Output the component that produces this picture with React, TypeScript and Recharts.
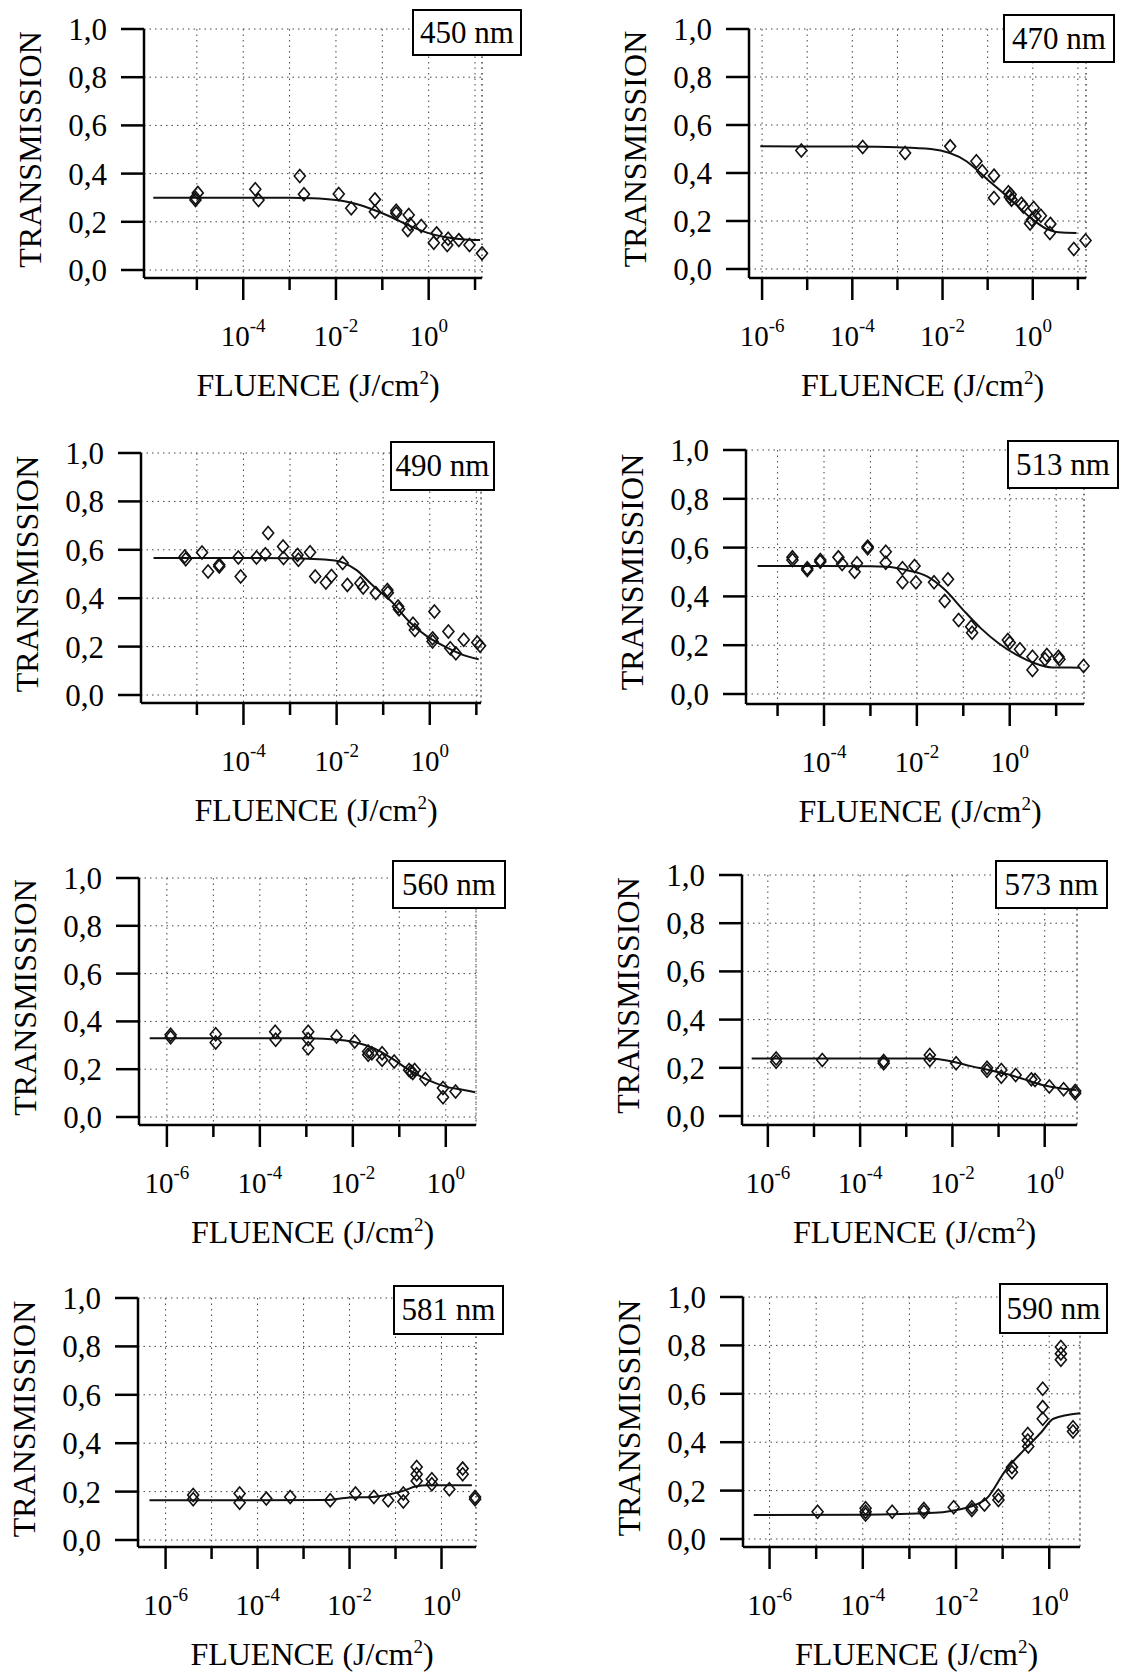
import React from "react";
import { ComposedChart, Line, Scatter, XAxis, YAxis, CartesianGrid, ReferenceLine } from "recharts";

const FONT = '"Liberation Serif", "Times New Roman", serif';

// transmission ticks, shared by every panel
const transTicks = [0, 0.2, 0.4, 0.6, 0.8, 1.0];

// fluence values are stored as log10(J/cm2)

// 450 nm
const fluence450 = [-5.03, -4.98, -5.03, -3.74, -3.67, -2.78, -2.69, -1.94, -1.67, -1.16, -1.16, -0.7, -0.7, -0.43, -0.45, -0.4, -0.16, 0.11, 0.17, 0.4, 0.42, 0.65, 0.88, 1.15];
const trans450 = [0.3, 0.32, 0.29, 0.335, 0.29, 0.39, 0.314, 0.315, 0.256, 0.293, 0.242, 0.246, 0.235, 0.228, 0.166, 0.19, 0.183, 0.113, 0.152, 0.104, 0.13, 0.124, 0.104, 0.069];
const fitFluence450 = [-5.94, -3.0, -2.5, -2.0, -1.58, -1.19, -0.81, -0.43, -0.04, 0.34, 0.72, 1.11];
const fitTrans450 = [0.3, 0.3, 0.298, 0.29, 0.275, 0.25, 0.22, 0.185, 0.155, 0.137, 0.128, 0.124];
const decades450 = [-5, -4, -3, -2, -1, 0, 1];

// 470 nm
const fluence470 = [-5.13, -3.77, -2.83, -1.83, -1.25, -1.12, -0.86, -0.86, -0.54, -0.49, -0.51, -0.47, -0.25, -0.21, 0.02, 0.06, -0.02, -0.06, 0.18, 0.39, 0.38, 0.91, 1.17];
const trans470 = [0.494, 0.508, 0.483, 0.511, 0.449, 0.407, 0.389, 0.296, 0.32, 0.31, 0.3, 0.289, 0.272, 0.26, 0.254, 0.22, 0.205, 0.19, 0.222, 0.188, 0.15, 0.083, 0.119];
const fitFluence470 = [-6.04, -4.0, -3.0, -2.26, -1.47, -1.0, -0.53, 0.0, 0.34, 0.57, 0.97];
const fitTrans470 = [0.511, 0.51, 0.507, 0.5, 0.449, 0.372, 0.296, 0.206, 0.164, 0.153, 0.15];
const decades470 = [-6, -5, -4, -3, -2, -1, 0, 1];

// 490 nm
const fluence490 = [-5.26, -5.24, -4.89, -4.76, -4.52, -4.52, -4.11, -4.06, -3.72, -3.53, -3.47, -3.15, -3.14, -2.84, -2.82, -2.57, -2.46, -2.23, -2.11, -1.87, -1.77, -1.49, -1.43, -1.16, -0.91, -0.9, -0.68, -0.66, -0.36, -0.32, 0.06, 0.06, 0.1, 0.4, 0.44, 0.56, 0.73, 1.02, 1.08];
const trans490 = [0.572, 0.561, 0.589, 0.51, 0.538, 0.531, 0.568, 0.49, 0.568, 0.582, 0.669, 0.614, 0.566, 0.579, 0.559, 0.59, 0.49, 0.465, 0.492, 0.545, 0.455, 0.462, 0.444, 0.421, 0.434, 0.423, 0.366, 0.354, 0.294, 0.269, 0.234, 0.221, 0.345, 0.262, 0.193, 0.172, 0.228, 0.217, 0.203];
const fitFluence490 = [-5.93, -4.0, -3.0, -2.04, -1.58, -1.2, -0.82, -0.44, -0.05, 0.4, 0.71, 1.05];
const fitTrans490 = [0.566, 0.566, 0.565, 0.556, 0.517, 0.448, 0.386, 0.303, 0.241, 0.193, 0.166, 0.148];
const decades490 = [-5, -4, -3, -2, -1, 0, 1];

// 513 nm
const fluence513 = [-4.68, -4.68, -4.36, -4.36, -4.08, -4.08, -3.69, -3.61, -3.34, -3.29, -3.06, -3.06, -2.67, -2.67, -2.31, -2.31, -2.05, -2.02, -1.63, -1.33, -1.4, -1.1, -0.83, -0.81, -0.04, 0.0, 0.22, 0.49, 0.49, 0.76, 0.8, 1.05, 1.07, 1.59];
const trans513 = [0.56, 0.549, 0.515, 0.508, 0.542, 0.549, 0.56, 0.533, 0.501, 0.536, 0.604, 0.597, 0.583, 0.538, 0.515, 0.458, 0.525, 0.458, 0.458, 0.47, 0.381, 0.303, 0.276, 0.251, 0.221, 0.21, 0.183, 0.153, 0.098, 0.142, 0.16, 0.153, 0.142, 0.115];
const fitFluence513 = [-5.43, -4.0, -3.0, -2.65, -2.23, -1.77, -1.39, -1.0, -0.62, -0.24, 0.15, 0.54, 0.91, 1.52];
const fitTrans513 = [0.525, 0.525, 0.524, 0.522, 0.508, 0.481, 0.426, 0.344, 0.269, 0.208, 0.16, 0.126, 0.109, 0.108];
const decades513 = [-5, -4, -3, -2, -1, 0, 1];

// 560 nm
const fluence560 = [-5.92, -5.92, -4.95, -4.95, -3.67, -3.66, -2.96, -2.96, -2.96, -2.35, -1.96, -1.67, -1.67, -1.59, -1.37, -1.37, -1.11, -0.79, -0.75, -0.71, -0.67, -0.44, -0.06, -0.06, 0.21];
const trans560 = [0.344, 0.334, 0.346, 0.312, 0.357, 0.323, 0.357, 0.325, 0.288, 0.337, 0.316, 0.274, 0.26, 0.267, 0.267, 0.239, 0.232, 0.197, 0.19, 0.184, 0.197, 0.159, 0.121, 0.083, 0.107];
const fitFluence560 = [-6.37, -4.0, -2.93, -2.31, -1.93, -1.55, -1.17, -0.79, -0.4, -0.02, 0.36, 0.63];
const fitTrans560 = [0.33, 0.33, 0.33, 0.323, 0.312, 0.288, 0.246, 0.197, 0.156, 0.128, 0.114, 0.104];
const decades560 = [-6, -5, -4, -3, -2, -1, 0];

// 573 nm
const fluence573 = [-5.82, -5.82, -4.82, -3.49, -3.49, -2.49, -2.49, -1.92, -1.25, -1.25, -0.94, -0.94, -0.63, -0.29, -0.21, 0.1, 0.41, 0.66, 0.66];
const trans573 = [0.239, 0.225, 0.232, 0.228, 0.219, 0.253, 0.232, 0.219, 0.2, 0.188, 0.191, 0.163, 0.17, 0.152, 0.149, 0.122, 0.111, 0.094, 0.104];
const fitFluence573 = [-6.35, -4.0, -2.45, -1.98, -1.6, -1.21, -0.83, -0.44, -0.05, 0.33, 0.68];
const fitTrans573 = [0.239, 0.239, 0.239, 0.225, 0.207, 0.191, 0.174, 0.152, 0.129, 0.115, 0.108];
const decades573 = [-6, -5, -4, -3, -2, -1, 0];

// 581 nm
const fluence581 = [-5.4, -5.4, -4.39, -4.39, -3.81, -3.29, -2.42, -1.87, -1.47, -1.16, -0.83, -0.83, -0.54, -0.54, -0.54, -0.21, -0.21, 0.17, 0.46, 0.46, 0.73, 0.73];
const trans581 = [0.186, 0.168, 0.192, 0.154, 0.171, 0.178, 0.164, 0.192, 0.178, 0.164, 0.192, 0.159, 0.302, 0.272, 0.244, 0.251, 0.23, 0.21, 0.295, 0.272, 0.178, 0.168];
const fitFluence581 = [-6.35, -2.5, -2.0, -1.5, -1.1, -0.8, -0.55, -0.3, 0.66];
const fitTrans581 = [0.164, 0.165, 0.176, 0.178, 0.19, 0.205, 0.222, 0.226, 0.226];
const decades581 = [-6, -5, -4, -3, -2, -1, 0];

// 590 nm
const fluence590 = [-4.97, -3.94, -3.94, -3.94, -3.37, -2.69, -2.69, -2.05, -1.66, -1.66, -1.39, -1.09, -1.09, -0.8, -0.8, -0.46, -0.46, -0.45, -0.14, -0.14, -0.14, 0.25, 0.25, 0.25, 0.51, 0.51];
const trans590 = [0.113, 0.127, 0.113, 0.101, 0.113, 0.124, 0.113, 0.131, 0.131, 0.12, 0.142, 0.179, 0.161, 0.297, 0.276, 0.434, 0.407, 0.382, 0.621, 0.545, 0.497, 0.793, 0.766, 0.741, 0.462, 0.444];
const fitFluence590 = [-6.34, -4.0, -2.46, -2.08, -1.6, -1.35, -0.94, -0.55, -0.17, 0.09, 0.66];
const fitTrans590 = [0.099, 0.1, 0.108, 0.117, 0.14, 0.166, 0.283, 0.366, 0.441, 0.497, 0.52];
const decades590 = [-6, -5, -4, -3, -2, -1, 0];

const toPoints = (f: number[], t: number[]) => f.map((e, i) => ({ x: 10 ** e, y: t[i] }));

const CELL_W = 561;
const CELL_H = 420;

// page layout of each panel: plot edges in px, log range of the x axis, label box
const panels = [
  { label: "450 nm", f: fluence450, t: trans450, ff: fitFluence450, ft: fitTrans450, dec: decades450,
    cellX: 0, cellY: 0, axisX: 144, rightX: 482, y1: 29, y0: 270, axisY: 278, lo: -6.14, hi: 1.15, box: [413, 10, 108, 45] },
  { label: "470 nm", f: fluence470, t: trans470, ff: fitFluence470, ft: fitTrans470, dec: decades470,
    cellX: 561, cellY: 0, axisX: 749, rightX: 1086, y1: 29, y0: 269, axisY: 278, lo: -6.29, hi: 1.18, box: [1004, 15, 110, 47] },
  { label: "490 nm", f: fluence490, t: trans490, ff: fitFluence490, ft: fitTrans490, dec: decades490,
    cellX: 0, cellY: 420, axisX: 141, rightX: 481, y1: 453, y0: 695, axisY: 703, lo: -6.2, hi: 1.1, box: [391, 442, 103, 48] },
  { label: "513 nm", f: fluence513, t: trans513, ff: fitFluence513, ft: fitTrans513, dec: decades513,
    cellX: 561, cellY: 420, axisX: 746, rightX: 1084, y1: 450, y0: 694, axisY: 704, lo: -5.68, hi: 1.6, box: [1008, 441, 110, 47] },
  { label: "560 nm", f: fluence560, t: trans560, ff: fitFluence560, ft: fitTrans560, dec: decades560,
    cellX: 0, cellY: 840, axisX: 139, rightX: 476, y1: 878, y0: 1117, axisY: 1125, lo: -6.6, hi: 0.65, box: [393, 861, 112, 47] },
  { label: "573 nm", f: fluence573, t: trans573, ff: fitFluence573, ft: fitTrans573, dec: decades573,
    cellX: 561, cellY: 840, axisX: 742, rightX: 1077, y1: 875, y0: 1116, axisY: 1125, lo: -6.56, hi: 0.7, box: [996, 861, 111, 47] },
  { label: "581 nm", f: fluence581, t: trans581, ff: fitFluence581, ft: fitTrans581, dec: decades581,
    cellX: 0, cellY: 1254, axisX: 138, rightX: 476, y1: 1298, y0: 1540, axisY: 1547, lo: -6.6, hi: 0.75, box: [394, 1286, 109, 48] },
  { label: "590 nm", f: fluence590, t: trans590, ff: fitFluence590, ft: fitTrans590, dec: decades590,
    cellX: 561, cellY: 1254, axisX: 743, rightX: 1080, y1: 1297, y0: 1539, axisY: 1547, lo: -6.57, hi: 0.66, box: [1000, 1284, 107, 49] },
];

type PanelDef = (typeof panels)[number];

const renderDiamond = (props: any) => {
  const { cx, cy } = props;
  if (cx == null || cy == null) return <g />;
  return (
    <path
      d={`M${cx},${cy - 6.5}L${cx + 5.5},${cy}L${cx},${cy + 6.5}L${cx - 5.5},${cy}Z`}
      fill="none"
      stroke="#111"
      strokeWidth={1.6}
    />
  );
};

const renderXTick = (props: any) => {
  const { x, y, payload } = props;
  const e = Math.round(Math.log10(payload.value));
  const major = e % 2 === 0;
  return (
    <g>
      <line x1={x} y1={y} x2={x} y2={y + (major ? 22 : 12)} stroke="#000" strokeWidth={2.5} />
      {major && (
        <text x={x} y={y + 68} textAnchor="middle" fontFamily={FONT} fontSize={29} fill="#000">
          10<tspan dy={-14} fontSize={19}>{String(e)}</tspan>
        </text>
      )}
    </g>
  );
};

function Panel({ p }: { p: PanelDef }) {
  const YW = 40;
  const XH = 20;
  const yMin = -(p.axisY - p.y0) / (p.y0 - p.y1);
  const margin = {
    left: p.axisX - p.cellX - YW,
    top: p.y1 - p.cellY,
    right: p.cellX + CELL_W - p.rightX,
    bottom: p.cellY + CELL_H - p.axisY - XH,
  };
  const pts = toPoints(p.f, p.t);
  const fit = toPoints(p.ff, p.ft);
  return (
    <div style={{ position: "absolute", left: p.cellX, top: p.cellY, width: CELL_W, height: CELL_H }}>
      <ComposedChart width={CELL_W} height={CELL_H} margin={margin}>
        <CartesianGrid stroke="#444" strokeDasharray="1.5 4" />
        <XAxis
          type="number"
          dataKey="x"
          scale="log"
          domain={[10 ** p.lo, 10 ** p.hi]}
          ticks={p.dec.map((e) => 10 ** e)}
          interval={0}
          tick={renderXTick}
          tickLine={false}
          tickSize={0}
          tickMargin={0}
          height={XH}
          axisLine={{ stroke: "#000", strokeWidth: 2.5 }}
        />
        <YAxis
          type="number"
          dataKey="y"
          domain={[yMin, 1]}
          ticks={transTicks}
          interval={0}
          width={YW}
          tickSize={23}
          tickMargin={14}
          tickFormatter={(v: number) => v.toFixed(1).replace(".", ",")}
          tick={{ fill: "#000", fontSize: 31, fontFamily: FONT }}
          tickLine={{ stroke: "#000", strokeWidth: 2.5 }}
          axisLine={{ stroke: "#000", strokeWidth: 2.5 }}
        />
        <ReferenceLine x={10 ** p.hi} stroke="#444" strokeDasharray="1.5 4" />
        <Line
          data={fit}
          dataKey="y"
          type="monotone"
          dot={false}
          stroke="#111"
          strokeWidth={2}
          isAnimationActive={false}
        />
        <Scatter data={pts} dataKey="y" shape={renderDiamond} isAnimationActive={false} />
      </ComposedChart>
    </div>
  );
}

function Labels() {
  return (
    <svg
      width={1122}
      height={1674}
      style={{ position: "absolute", left: 0, top: 0, pointerEvents: "none" }}
      fontFamily={FONT}
    >
      {panels.map((p) => {
        const [bx, by, bw, bh] = p.box;
        return (
          <g key={p.label}>
            <text
              transform={`translate(${p.axisX - 114}, ${(p.y1 + p.y0) / 2}) rotate(-90)`}
              textAnchor="middle"
              dominantBaseline="central"
              fontSize={32}
              fill="#000"
            >
              TRANSMISSION
            </text>
            <text x={(p.axisX + p.rightX) / 2 + 5} y={p.axisY + 118} textAnchor="middle" fontSize={32} fill="#000">
              FLUENCE (J/cm<tspan fontSize={19} dy={-12}>2</tspan>
              <tspan dy={12}>)</tspan>
            </text>
            <rect x={bx} y={by} width={bw} height={bh} fill="#fff" stroke="#000" strokeWidth={2} />
            <text x={bx + bw / 2} y={by + bh / 2 + 10} textAnchor="middle" fontSize={31} fill="#000">
              {p.label}
            </text>
          </g>
        );
      })}
    </svg>
  );
}

export default function App() {
  return (
    <div style={{ position: "absolute", left: 0, top: 0, width: 1122, height: 1674, background: "#fff" }}>
      {panels.map((p) => (
        <Panel key={p.label} p={p} />
      ))}
      <Labels />
    </div>
  );
}
